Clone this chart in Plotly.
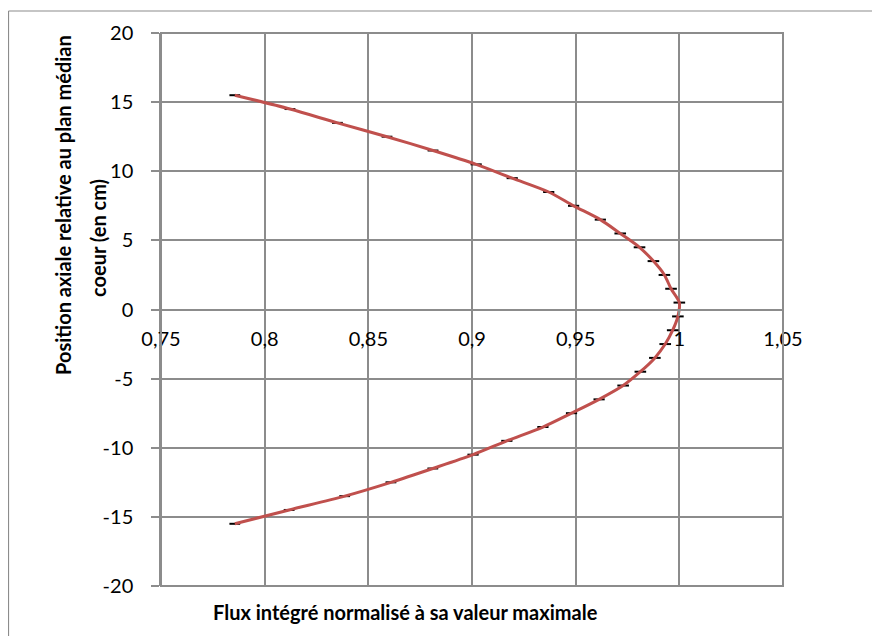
import plotly.graph_objects as go

# Axial positions (cm) relative to the core mid-plane
positions = [-15.5, -14.5, -13.5, -12.5, -11.5, -10.5, -9.5, -8.5, -7.5, -6.5, -5.5,
             -4.5, -3.5, -2.5, -1.5, -0.5, 0.5, 1.5, 2.5, 3.5, 4.5, 5.5, 6.5, 7.5,
             8.5, 9.5, 10.5, 11.5, 12.5, 13.5, 14.5, 15.5]

# Normalised integrated flux
flux = [0.7856, 0.8118, 0.8386, 0.8609, 0.8811, 0.9005, 0.9168, 0.9342, 0.9480, 0.9613,
        0.9729, 0.9812, 0.9882, 0.9932, 0.9968, 0.9993, 1.0000, 0.9960, 0.9928, 0.9875,
        0.9808, 0.9715, 0.9619, 0.9490, 0.9370, 0.9194, 0.9020, 0.8812, 0.8590, 0.8351,
        0.8122, 0.7856]

# Horizontal error bars (half width)
flux_err = [0.0026, 0.0026, 0.0026, 0.0026, 0.0026, 0.0027, 0.0027, 0.0027, 0.0027, 0.0027,
            0.0028, 0.0028, 0.0028, 0.0028, 0.0028, 0.0028, 0.0028, 0.0028, 0.0028, 0.0028,
            0.0028, 0.0028, 0.0027, 0.0027, 0.0027, 0.0027, 0.0027, 0.0026, 0.0026, 0.0026,
            0.0026, 0.0026]

x_tickvals = [0.75, 0.8, 0.85, 0.9, 0.95, 1.0, 1.05]
x_ticktext = ["0,75", "0,8", "0,85", "0,9", "0,95", "1", "1,05"]
y_tickvals = [-20, -15, -10, -5, 0, 5, 10, 15, 20]
y_ticktext = ["-20", "-15", "-10", "-5", "0", "5", "10", "15", "20"]

x_title = "Flux intégré normalisé à sa valeur maximale"
y_title_1 = "Position axiale relative au plan médian"
y_title_2 = "coeur (en cm)"

FONT = "Lato"
GRID = "#8c8c8c"

# page body has an 8px margin: figure is sized/positioned to compensate
W, H = 864, 628
ML, MT, MR, MB = 153, 25, 89, 50
PW, PH = W - ML - MR, H - MT - MB
OFF = 8


def px(x):  # screenshot x -> paper x
    return (x - OFF - ML) / PW


def py(y):  # screenshot y -> paper y
    return (MT + PH + OFF - y) / PH


fig = go.Figure()
fig.add_trace(go.Scatter(
    x=flux, y=positions, mode="lines",
    line=dict(color="#C0504D", width=3, shape="spline", smoothing=0.8),
    error_x=dict(type="data", array=flux_err, visible=True, color="black",
                 thickness=2, width=0),
    showlegend=False, hoverinfo="x+y",
))

fig.update_layout(
    width=W, height=H, autosize=False,
    margin=dict(l=ML, r=MR, t=MT, b=MB, pad=0),
    paper_bgcolor="white", plot_bgcolor="white",
    font=dict(family=FONT, size=20, color="black"),
    xaxis=dict(
        range=[0.75, 1.05], tickmode="array", tickvals=x_tickvals, ticktext=x_ticktext,
        showgrid=True, gridcolor=GRID, gridwidth=1.5,
        anchor="free", position=0.5,
        showline=True, linecolor=GRID, linewidth=1.5,
        ticks="outside", ticklen=6, tickcolor=GRID, tickwidth=1.5,
        zeroline=False, tickfont=dict(family=FONT, size=20), ticklabelstandoff=6,
    ),
    yaxis=dict(
        range=[-20, 20], tickmode="array", tickvals=y_tickvals, ticktext=y_ticktext,
        showgrid=True, gridcolor=GRID, gridwidth=1.5,
        showline=True, linecolor=GRID, linewidth=1.5,
        ticks="outside", ticklen=8, tickcolor=GRID, tickwidth=1.5,
        zeroline=False, tickfont=dict(family=FONT, size=20), ticklabelstandoff=14,
    ),
    shapes=[
        dict(type="rect", xref="paper", yref="paper", x0=0, x1=1, y0=0, y1=1,
             line=dict(color=GRID, width=2), fillcolor="rgba(0,0,0,0)", layer="above"),
        dict(type="line", xref="paper", yref="paper", x0=px(8.5), x1=px(900), y0=py(11), y1=py(11),
             line=dict(color="#8c8c8c", width=1.2)),
        dict(type="line", xref="paper", yref="paper", x0=px(8.5), x1=px(8.5), y0=py(700), y1=py(11),
             line=dict(color="#8c8c8c", width=1.2)),
    ],
    annotations=[
        dict(text="<b>" + x_title + "</b>", xref="paper", yref="paper",
             x=px(405), y=py(612), xanchor="center", yanchor="middle",
             showarrow=False, font=dict(family=FONT, size=20)),
        dict(text="<b>" + y_title_1 + "</b>", xref="paper", yref="paper",
             x=px(63), y=py(205), xanchor="center", yanchor="middle",
             textangle=-90, showarrow=False, font=dict(family=FONT, size=20)),
        dict(text="<b>" + y_title_2 + "</b>", xref="paper", yref="paper",
             x=px(98), y=py(238), xanchor="center", yanchor="middle",
             textangle=-90, showarrow=False, font=dict(family=FONT, size=20)),
    ],
)

fig.write_html("out.html")
